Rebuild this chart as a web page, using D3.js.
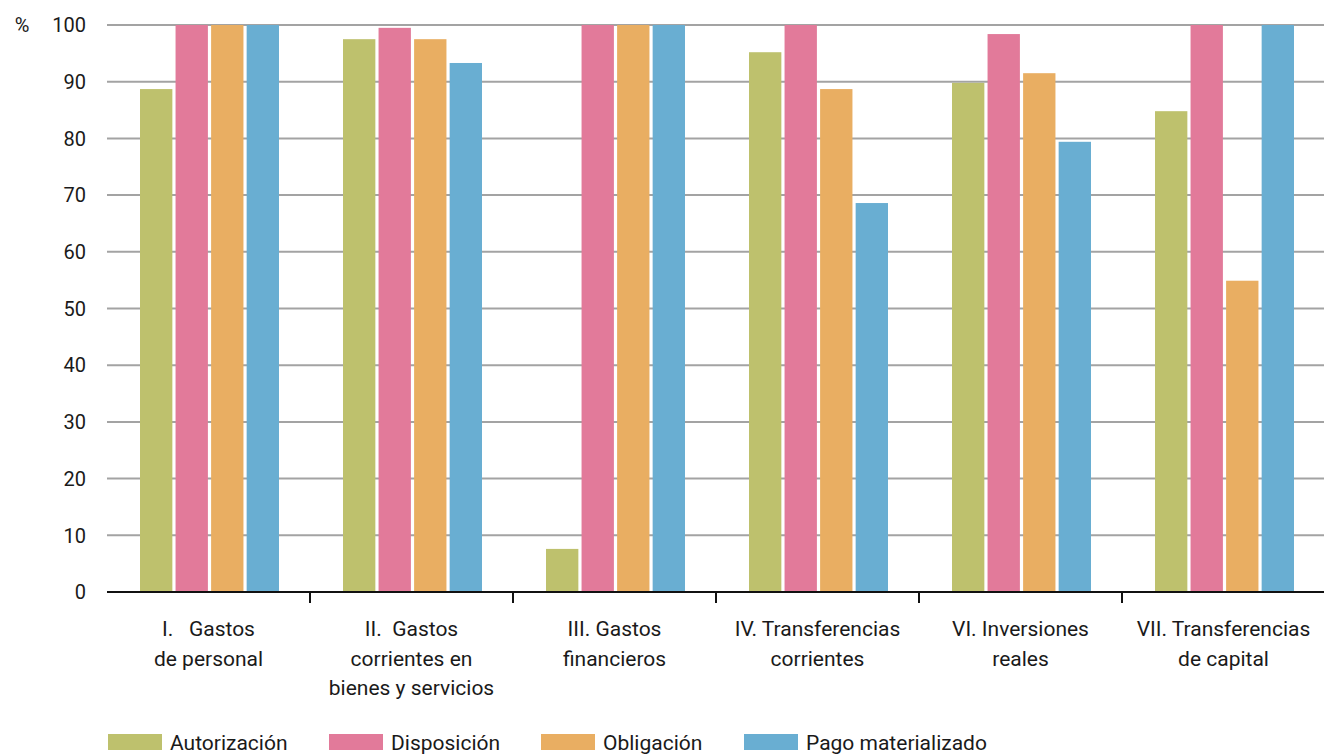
<!DOCTYPE html>
<html lang="es">
<head>
<meta charset="utf-8">
<script src="https://d3js.org/d3.v7.min.js"></script>
<style>
  body { margin: 0; background: #fff; }
  svg text { font-family: "Liberation Sans Narrow", "Roboto", sans-serif; fill: #1a1a1a; }
</style>
</head>
<body>
<div id="chart"></div>
<script>
// categories (multi-line labels)
const categories = [
  ["I.   Gastos", "de personal"],
  ["II.  Gastos", "corrientes en", "bienes y servicios"],
  ["III. Gastos", "financieros"],
  ["IV. Transferencias", "corrientes"],
  ["VI. Inversiones", "reales"],
  ["VII. Transferencias", "de capital"]
];
const seriesNames = ["Autorización", "Disposición", "Obligación", "Pago materializado"];
const seriesColors = ["#bec16d", "#e27a9a", "#e9ae62", "#69aed2"];

const autorizacion = [88.7, 97.5, 7.6, 95.2, 89.8, 84.8];
const disposicion  = [100, 99.5, 100, 100, 98.4, 100];
const obligacion   = [100, 97.5, 100, 88.7, 91.5, 54.9];
const pago         = [100, 93.3, 100, 68.6, 79.4, 100];
const yTicks = [0, 10, 20, 30, 40, 50, 60, 70, 80, 90, 100];

const W = 1324, H = 754;
const plotL = 107, plotR = 1325, plotT = 25, plotB = 592;

const svg = d3.select("#chart").append("svg")
  .attr("width", W).attr("height", H);

const x0 = d3.scaleBand().domain(d3.range(categories.length)).range([plotL, plotR]);
const x1 = d3.scaleBand().domain(d3.range(seriesNames.length))
  .range([0, 139]).paddingInner(0.09);
const y = d3.scaleLinear().domain([0, 100]).range([plotB, plotT]);

// gridlines
svg.append("g").selectAll("line")
  .data(yTicks.filter(d => d > 0))
  .join("line")
  .attr("x1", plotL).attr("x2", W)
  .attr("y1", d => y(d)).attr("y2", d => y(d))
  .attr("stroke", "#a3a3a3").attr("stroke-width", 2);

// y labels
svg.append("g").selectAll("text")
  .data(yTicks)
  .join("text")
  .attr("x", 86).attr("y", d => y(d))
  .attr("dy", "0.36em")
  .attr("text-anchor", "end")
  .attr("font-size", 20)
  .text(d => d);

svg.append("text").attr("x", 22).attr("y", y(100)).attr("dy", "0.36em")
  .attr("text-anchor", "middle").attr("font-size", 20).text("%");

// bars
const series = [autorizacion, disposicion, obligacion, pago];
const offset = (x0.bandwidth() - 139) / 2 + 1;
series.forEach((vals, s) => {
  svg.append("g").selectAll("rect")
    .data(vals)
    .join("rect")
    .attr("x", (d, i) => x0(i) + offset + x1(s))
    .attr("width", x1.bandwidth())
    .attr("y", d => y(d))
    .attr("height", d => y(0) - y(d))
    .attr("fill", seriesColors[s]);
});

// x axis
svg.append("line")
  .attr("x1", plotL).attr("x2", W)
  .attr("y1", plotB).attr("y2", plotB)
  .attr("stroke", "#111").attr("stroke-width", 2);
svg.append("g").selectAll("line")
  .data(d3.range(1, categories.length))
  .join("line")
  .attr("x1", i => x0(i)).attr("x2", i => x0(i))
  .attr("y1", plotB).attr("y2", plotB + 11)
  .attr("stroke", "#111").attr("stroke-width", 2);

// category labels
const lab = svg.append("g").selectAll("text")
  .data(categories)
  .join("text")
  .attr("x", (d, i) => x0(i) + x0.bandwidth() / 2)
  .attr("y", 636)
  .attr("text-anchor", "middle")
  .attr("font-size", 21)
  .style("white-space", "pre");
lab.selectAll("tspan")
  .data(d => d)
  .join("tspan")
  .attr("x", function () { return this.parentNode.getAttribute("x"); })
  .attr("dy", (d, j) => j === 0 ? 0 : 29.5)
  .text(d => d);

// legend
const legendX = [108, 329, 541, 744];
const lg = svg.append("g").selectAll("g")
  .data(seriesNames)
  .join("g")
  .attr("transform", (d, i) => `translate(${legendX[i]},734)`);
lg.append("rect").attr("width", 54).attr("height", 16)
  .attr("fill", (d, i) => seriesColors[i]);
lg.append("text").attr("x", 62).attr("y", 8).attr("dy", "0.36em")
  .attr("font-size", 21).text(d => d);
</script>
</body>
</html>
